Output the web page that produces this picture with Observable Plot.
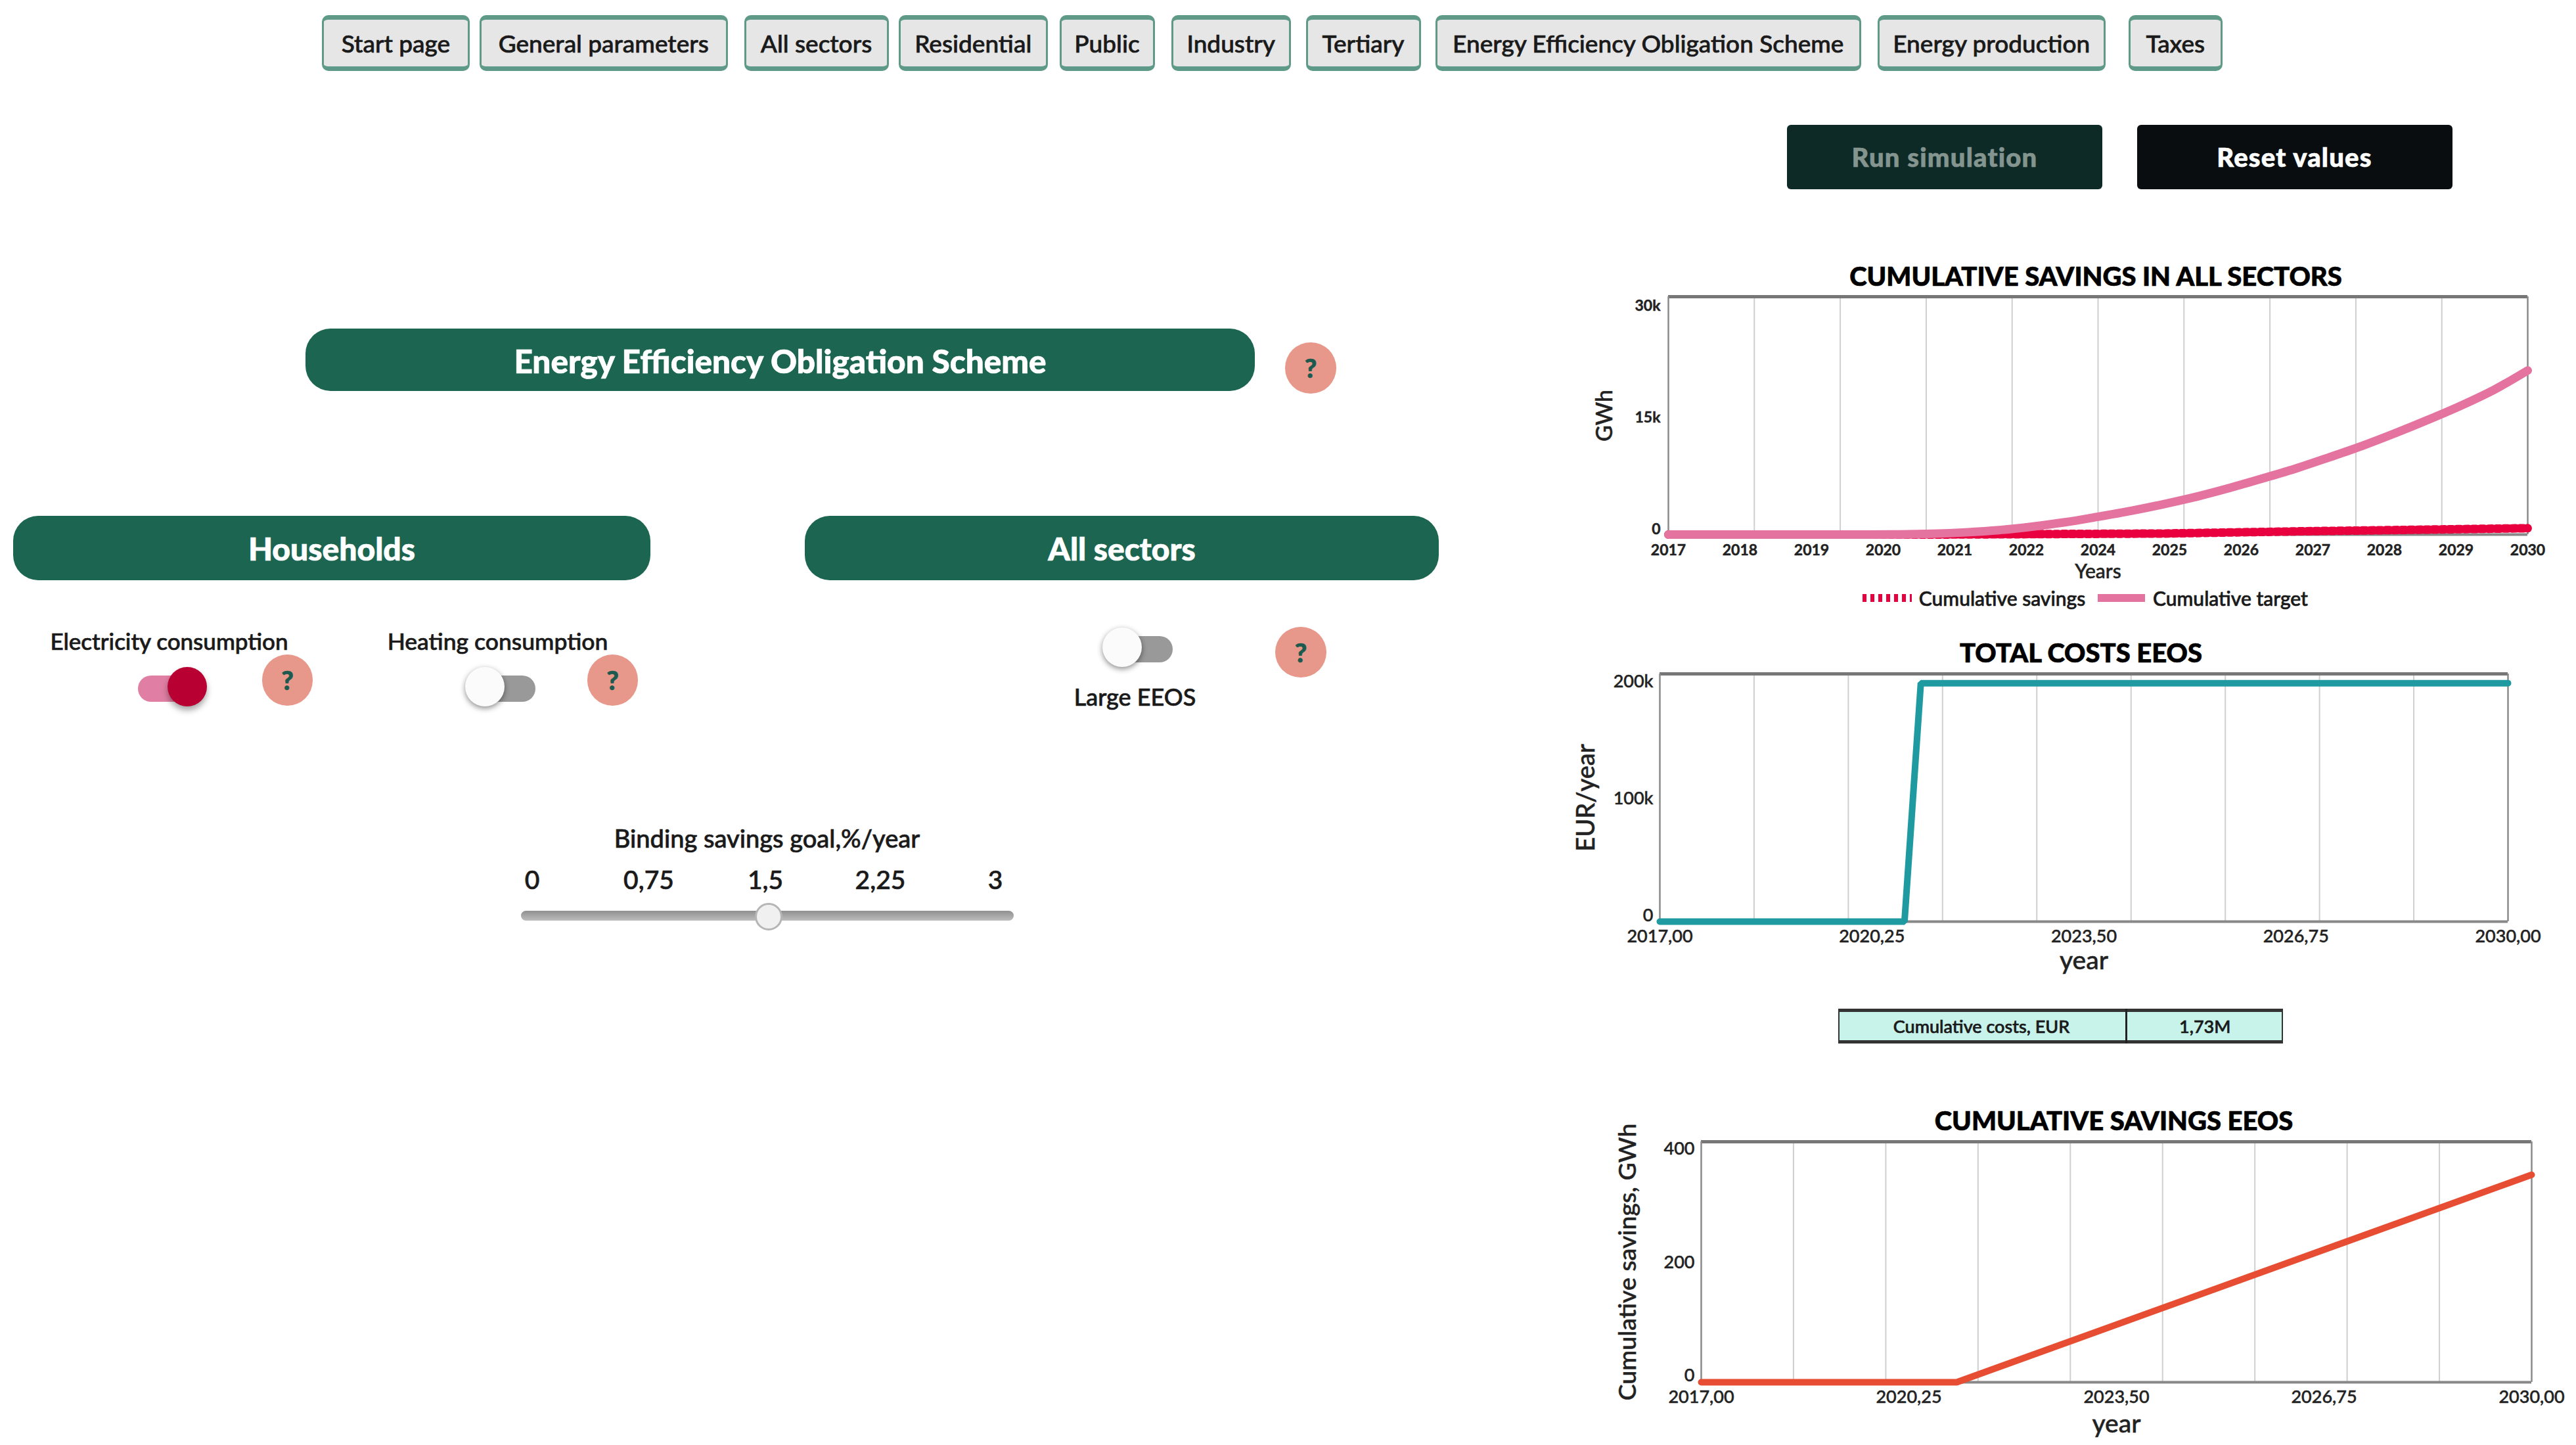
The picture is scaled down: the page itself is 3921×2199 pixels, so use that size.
<!DOCTYPE html>
<html>
<head>
<meta charset="utf-8">
<script src="https://cdn.jsdelivr.net/npm/d3@7"></script>
<script src="https://cdn.jsdelivr.net/npm/@observablehq/plot@0.6"></script>
<style>
html,body{margin:0;padding:0;background:#fff;width:3921px;height:2199px;overflow:hidden;font-family:Lato,"Open Sans",sans-serif;color:#1a1a1a;-webkit-text-stroke:.7px currentColor}
.a{position:absolute;box-sizing:border-box}
.c{display:flex;align-items:center;justify-content:center;white-space:nowrap}
.t{position:absolute;transform:translate(-50%,-50%);white-space:nowrap}
.nav{background:#e6e6e6;border:3px solid #5f9a88;border-top-width:7px;border-bottom-width:7px;border-radius:10px;font-size:37px;font-weight:500}
.hdr{background:#1c6651;color:#fff;font-weight:900;border-radius:38px;font-size:48px;padding-top:2px}
.help{background:#e8988a;color:#1c5a50;border-radius:50%;font-weight:900;font-size:40px}
.ttl{font-weight:900;font-size:40px;color:#000}
svg{overflow:visible}
svg text{stroke:#222;stroke-width:.5px}
</style>
</head>
<body>
<div id="root"></div>
<script>
// ---- Interface labels ----
const navLabels = ["Start page","General parameters","All sectors","Residential","Public","Industry","Tertiary","Energy Efficiency Obligation Scheme","Energy production","Taxes"];
const sliderTicks = ["0","0,75","1,5","2,25","3"];

// ---- Chart 1: cumulative savings in all sectors ----
const years1 = [2017,2018,2019,2020,2020.5,2021,2021.5,2022,2022.5,2023,2023.5,2024,2024.5,2025,2025.5,2026,2026.5,2027,2027.5,2028,2028.5,2029,2029.5,2030];
const target1 = [0,0,0,0,20,100,280,560,1000,1550,2250,3000,3850,4800,5900,7100,8350,9750,11200,12800,14500,16300,18300,20700];
const savingsYears = [2017,2021,2024.5,2026.5,2030];
const savings1 = [0,0,130,400,800];
const xTicks1 = [2017,2018.083,2019.167,2020.25,2021.333,2022.417,2023.5,2024.583,2025.667,2026.75,2027.833,2028.917,2030];
const xTickLabels1 = ["2017","2018","2019","2020","2021","2022","2024","2025","2026","2027","2028","2029","2030"];
const yTicks1 = [0,15000,30000];
const yTickLabels1 = ["0","15k","30k"];
const grid1 = [2018.3,2019.6,2020.9,2022.2,2023.5,2024.8,2026.1,2027.4,2028.7];

// ---- Chart 2: total costs EEOS ----
const years2 = [2017,2020.75,2021,2030];
const costs2 = [0,0,192500,192500];
const xTicks23 = [2017,2020.25,2023.5,2026.75,2030];
const xTickLabels23 = ["2017,00","2020,25","2023,50","2026,75","2030,00"];
const yTicks2 = [0,100000,200000];
const yTickLabels2 = ["0","100k","200k"];
const grid23 = [2018.444,2019.889,2021.333,2022.778,2024.222,2025.667,2027.111,2028.556];

// ---- Chart 3: cumulative savings EEOS ----
const years3 = [2017,2021,2030];
const savings3 = [0,0,345];
const yTicks3 = [0,200,400];
const yTickLabels3 = ["0","200","400"];

const root = document.getElementById("root");
const U = 2.5;
function box(x0,y0,x1,y1,cls,txt,css){
  const d=document.createElement("div");
  d.className="a "+cls;
  d.style.cssText=`left:${x0*U}px;top:${y0*U}px;width:${(x1-x0)*U}px;height:${(y1-y0)*U}px;`+(css||"");
  if(txt) d.textContent=txt;
  root.appendChild(d);return d;
}
function label(cx,cy,txt,css,cls){
  const d=document.createElement("div");
  d.className="t "+(cls||"");
  d.style.cssText=`left:${cx*U}px;top:${cy*U}px;`+(css||"");
  d.textContent=txt;root.appendChild(d);return d;
}
function circle(cx,cy,r,cls,txt,css){return box(cx-r,cy-r,cx+r,cy+r,cls,txt,"border-radius:50%;"+(css||""));}

// Navigation
const navPos=[[196,286],[292,443],[453,541],[547,638],[645,703],[713,786],[795,865],[874,1133],[1143,1282],[1296,1353]];
navLabels.forEach((n,i)=>box(navPos[i][0],9,navPos[i][1],43,"nav c",n));
box(1088,76,1280,115,"c","Run simulation","background:#0e2a27;color:#84948f;font-weight:900;font-size:40px;letter-spacing:1.2px;border-radius:6px");
box(1301,76,1493,115,"c","Reset values","background:#0a0d10;color:#fff;font-weight:900;font-size:40px;letter-spacing:1.2px;border-radius:6px");

// Headers
box(186,200,764,238,"hdr c","Energy Efficiency Obligation Scheme","font-size:49.5px");
box(8,314,396,353,"hdr c","Households");
box(490,314,876,353,"hdr c","All sectors");
[[798,224],[175,414],[373,414],[792,397]].forEach(p=>circle(p[0],p[1],15.5,"help c","?"));

// Toggles
label(103,390,"Electricity consumption","font-size:35px;font-weight:500");
label(303,390,"Heating consumption","font-size:35.5px;font-weight:500");
label(691,424,"Large EEOS","font-size:36px;font-weight:500");
box(84,411,114,427,"","", "background:#e07fa3;border-radius:20px");
circle(114,418,12,"","","background:#b80033;box-shadow:0 6px 10px rgba(0,0,0,.35)");
box(295,411,326,427,"","", "background:#999;border-radius:20px");
circle(295,418,12,"","","background:#fbfbfb;box-shadow:0 3px 8px rgba(0,0,0,.45)");
box(683,387,714,403,"","", "background:#999;border-radius:20px");
circle(683,394,12,"","","background:#fbfbfb;box-shadow:0 3px 8px rgba(0,0,0,.45)");

// Slider
label(467,510,"Binding savings goal,%/year","font-size:38px;font-weight:500");
[324,395,466,536,606].forEach((x,i)=>label(x,535,sliderTicks[i],"font-size:39px;font-weight:500"));
box(317,554.5,617,560.5,"","", "background:linear-gradient(#8f8f8f,#bdbdbd);border-radius:8px");
circle(468,558,8.5,"","","background:#f0f0f0;border:3px solid #b5b5b5");

// Chart titles
label(1276,168,"CUMULATIVE SAVINGS IN ALL SECTORS","","ttl");
label(1267,397,"TOTAL COSTS EEOS","","ttl");
label(1287,682,"CUMULATIVE SAVINGS EEOS","","ttl");

// Legend of chart 1
box(1134,361.6,1164,366.4,"","", "background:repeating-linear-gradient(90deg,#e8003f 0 6px,transparent 6px 12px)");
label(1219,364,"Cumulative savings","font-size:30px;font-weight:500");
box(1277,361.6,1306,366.4,"","", "background:#e573a0");
label(1358,364,"Cumulative target","font-size:30px;font-weight:500");

// Costs table
const tb=box(1119,614,1390,635,"","", "background:#c7f3ea;border:2px solid #333;border-top-width:5px;border-bottom-width:5px");
box(1119,614,1295,635,"c","Cumulative costs, EUR","border-right:3px solid #222;font-size:27px;font-weight:500");
box(1295,614,1390,635,"c","1,73M","font-size:27px;font-weight:500");

// Plot helpers
const FONT="Lato";
function chart(o){
  const {left,right,top,bottom,mL=150,mR=60,mT=20,mB,xDomain,yDomain,marks,tickFont,tickWeight}=o;
  const yAxes=o.yTicks.map((v,i)=>Plot.axisY([v],{tickSize:0,tickPadding:o.yPad,tickFormat:()=>o.yLabels[i],dy:o.yNudge[i],fontSize:tickFont,fontWeight:tickWeight,label:null,fill:"#222"}));
  const p=Plot.plot({
    width:right-left+mL+mR,height:bottom-top+mT+mB,
    marginLeft:mL,marginRight:mR,marginTop:mT,marginBottom:mB,
    style:{fontFamily:FONT,background:"transparent",overflow:"visible"},
    x:{domain:xDomain,label:null},y:{domain:yDomain,label:null},
    marks:[
      Plot.ruleX(o.grid,{stroke:"#cfcfcf",strokeWidth:2}),
      Plot.ruleY([yDomain[1]],{stroke:"#777",strokeWidth:5}),
      Plot.ruleY([yDomain[0]],{stroke:"#888",strokeWidth:4}),
      Plot.ruleX(xDomain,{stroke:"#8a8a8a",strokeWidth:2.5}),
      ...marks,
      ...yAxes,
      Plot.axisX(o.xTicks,{tickSize:0,tickPadding:o.xPad,tickFormat:(d)=>o.xLabels[o.xTicks.indexOf(d)],fontSize:tickFont,fontWeight:tickWeight,label:null,fill:"#222"}),
      Plot.axisX([],{label:o.xTitle,labelAnchor:"center",labelArrow:"none",labelOffset:o.xTitleOffset,tickSize:0,fontSize:o.xTitleSize,fontWeight:500,fill:"#222"}),
      Plot.axisY([],{label:o.yTitle,labelAnchor:"center",labelArrow:"none",labelOffset:o.yTitleOffset,tickSize:0,fontSize:o.yTitleSize,fontWeight:500,fill:"#222"})
    ]
  });
  p.style.position="absolute";
  p.style.left=(left-mL)+"px";
  p.style.top=(top-mT)+"px";
  root.appendChild(p);
}

const pairs=(xs,ys)=>xs.map((x,i)=>({x,y:ys[i]}));

chart({left:2539,right:3847,top:451,bottom:813,mB:120,xDomain:[2017,2030],yDomain:[0,30000],
  grid:grid1,xTicks:xTicks1,xLabels:xTickLabels1,yTicks:yTicks1,yLabels:yTickLabels1,yNudge:[-8,3,14],
  tickFont:23,tickWeight:700,xPad:15,yPad:12,xTitle:"Years",xTitleOffset:66,xTitleSize:30,
  yTitle:"GWh",yTitleOffset:110,yTitleSize:34,
  marks:[
    Plot.line(pairs(savingsYears,savings1),{x:"x",y:"y",stroke:"#e8003f",strokeWidth:13,strokeDasharray:"6 6"}),
    Plot.line(pairs(years1,target1),{x:"x",y:"y",stroke:"#e573a0",strokeWidth:13,curve:"monotone-x"})
  ]});

chart({left:2526,right:3817,top:1025,bottom:1402,mB:100,xDomain:[2017,2030],yDomain:[0,200000],
  grid:grid23,xTicks:xTicks23,xLabels:xTickLabels23,yTicks:yTicks2,yLabels:yTickLabels2,yNudge:[-9,1,12],
  tickFont:27,tickWeight:500,xPad:12,yPad:10,xTitle:"year",xTitleOffset:72,xTitleSize:39,
  yTitle:"EUR/year",yTitleOffset:126,yTitleSize:38,
  marks:[
    Plot.line(pairs(years2,costs2),{x:"x",y:"y",stroke:"#1e9aa0",strokeWidth:10,strokeLinejoin:"miter"})
  ]});

chart({left:2589,right:3853,top:1737,bottom:2103,mB:90,xDomain:[2017,2030],yDomain:[0,400],
  grid:grid23,xTicks:xTicks23,xLabels:xTickLabels23,yTicks:yTicks3,yLabels:yTickLabels3,yNudge:[-10,1,11],
  tickFont:27,tickWeight:500,xPad:12,yPad:10,xTitle:"year",xTitleOffset:76,xTitleSize:39,
  yTitle:"Cumulative savings, GWh",yTitleOffset:126,yTitleSize:37.5,
  marks:[
    Plot.line(pairs(years3,savings3),{x:"x",y:"y",stroke:"#e64d33",strokeWidth:10,strokeLinejoin:"miter"})
  ]});
</script>
</body>
</html>
